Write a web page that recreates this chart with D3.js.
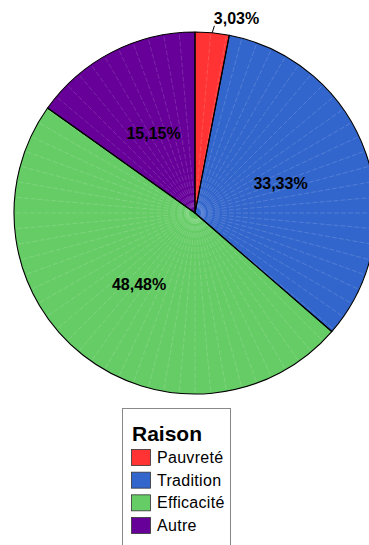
<!DOCTYPE html>
<html>
<head>
<meta charset="utf-8">
<script src="https://cdn.jsdelivr.net/npm/d3@7"></script>
<style>
  html, body { margin: 0; padding: 0; background: #fff; }
  svg { display: block; font-family: Arial, "Liberation Sans", sans-serif; }
</style>
</head>
<body>
<svg id="chart" width="369" height="545"></svg>
<script>
// Reasons given, with their share of answers (percent)
const categories = ["Pauvreté", "Tradition", "Efficacité", "Autre"];
const values = [3.03, 33.33, 48.48, 15.15];
const labels = ["3,03%", "33,33%", "48,48%", "15,15%"];
const colors = ["#FF3333", "#3366CC", "#66CC66", "#660099"];
const legendTitle = "Raison";

const svg = d3.select("#chart");
const cx = 195, cy = 213, radius = 181;

const data = categories.map((c, i) => ({ name: c, value: values[i], label: labels[i], color: colors[i] }));

const pie = d3.pie().sort(null).value(d => d.value);
const arcs = pie(data);
const arc = d3.arc().innerRadius(0).outerRadius(radius);
const labelArc = d3.arc().innerRadius(radius / 2).outerRadius(radius / 2);

const g = svg.append("g").attr("transform", `translate(${cx},${cy})`);

// slices
g.selectAll("path.slice")
  .data(arcs)
  .join("path")
  .attr("class", "slice")
  .attr("d", arc)
  .attr("fill", d => d.data.color);

// faint radial facet lines every 5 degrees inside each slice
const step = Math.PI / 36;
arcs.forEach(a => {
  const first = Math.ceil(a.startAngle / step + 1e-6) * step;
  for (let t = first; t < a.endAngle - 1e-6; t += step) {
    g.append("line")
      .attr("x1", 6 * Math.sin(t)).attr("y1", -6 * Math.cos(t))
      .attr("x2", radius * Math.sin(t))
      .attr("y2", -radius * Math.cos(t))
      .attr("stroke", "#fff")
      .attr("stroke-opacity", 0.25)
      .attr("stroke-width", 0.6)
      .attr("stroke-dasharray", "5,2");
  }
});

// slice outlines
g.selectAll("path.outline")
  .data(arcs)
  .join("path")
  .attr("class", "outline")
  .attr("d", arc)
  .attr("fill", "none")
  .attr("stroke", "#000")
  .attr("stroke-width", 1.1)
  .attr("stroke-linejoin", "round");

// value labels: small slice gets an outside label with a leader line
arcs.forEach(a => {
  const mid = (a.startAngle + a.endAngle) / 2;
  if (a.endAngle - a.startAngle < 0.3) {
    const p0 = [radius * Math.sin(mid), -radius * Math.cos(mid)];
    const p1 = [(radius + 7) * Math.sin(mid) + 1.5, -(radius + 7) * Math.cos(mid)];
    g.append("line")
      .attr("x1", p0[0]).attr("y1", p0[1])
      .attr("x2", p1[0]).attr("y2", p1[1])
      .attr("stroke", "#000").attr("stroke-width", 1);
    g.append("text")
      .attr("x", p1[0] - 0.5)
      .attr("y", p1[1] - 1.5)
      .attr("font-size", 16)
      .attr("font-weight", "bold")
      .attr("fill", "#000")
      .text(a.data.label);
  } else {
    const [x, y] = labelArc.centroid(a);
    g.append("text")
      .attr("x", x)
      .attr("y", y + 6)
      .attr("text-anchor", "middle")
      .attr("font-size", 16)
      .attr("font-weight", "bold")
      .attr("fill", "#000")
      .text(a.data.label);
  }
});

// legend
const legend = svg.append("g");
legend.append("rect")
  .attr("x", 122.5).attr("y", 408.5)
  .attr("width", 108).attr("height", 160)
  .attr("fill", "#fff")
  .attr("stroke", "#888")
  .attr("stroke-width", 1);
legend.append("text")
  .attr("x", 132).attr("y", 441)
  .attr("font-size", 21)
  .attr("font-weight", "bold")
  .attr("fill", "#000")
  .text(legendTitle);

const rowY = d3.scalePoint().domain(categories).range([449, 517]);
const items = legend.selectAll("g.item")
  .data(data)
  .join("g")
  .attr("class", "item")
  .attr("transform", d => `translate(0,${rowY(d.name)})`);
items.append("rect")
  .attr("x", 131.5).attr("y", 0.5)
  .attr("width", 19).attr("height", 16)
  .attr("fill", d => d.color)
  .attr("stroke", "#333")
  .attr("stroke-width", 0.8);
items.append("text")
  .attr("x", 157).attr("y", 14)
  .attr("font-size", 16)
  .attr("letter-spacing", 0.3)
  .attr("fill", "#000")
  .text(d => d.name);
</script>
</body>
</html>
